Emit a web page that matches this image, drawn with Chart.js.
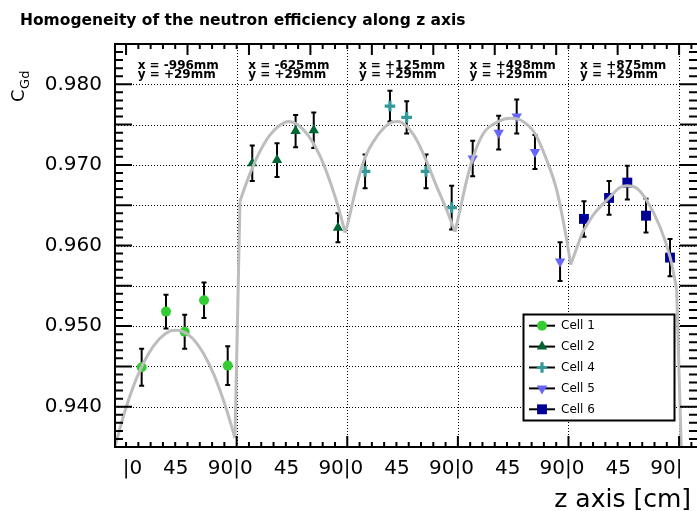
<!DOCTYPE html>
<html>
<head>
<meta charset="utf-8">
<script src="https://cdn.jsdelivr.net/npm/chart.js@4.4.1/dist/chart.umd.min.js"></script>
<style>
  html, body { margin: 0; padding: 0; background: #fff; }
  canvas { display: block; }
</style>
</head>
<body>
<canvas id="chart" width="697" height="511"></canvas>
<script>
// z runs along five cells laid end to end, each cell 100 units long
const cellLength = 100;
const cellNames = ["Cell 1", "Cell 2", "Cell 4", "Cell 5", "Cell 6"];
const cellX = ["x = -996mm", "x = -625mm", "x = +125mm", "x = +498mm", "x = +875mm"];
const cellY = ["y = +29mm", "y = +29mm", "y = +29mm", "y = +29mm", "y = +29mm"];

const z1 = [14.1, 36.1, 53.0, 70.5, 91.9];
const eff1 = [0.9449, 0.9518, 0.9493, 0.9532, 0.9451];
const err1 = [0.0023, 0.0021, 0.0021, 0.0022, 0.0024];

const z2 = [114.1, 136.5, 153.3, 169.7, 191.6];
const eff2 = [0.9702, 0.9706, 0.9742, 0.9743, 0.9622];
const err2 = [0.0022, 0.0021, 0.0020, 0.0022, 0.0018];

const z4 = [216.1, 238.6, 253.7, 271.2, 294.4];
const eff4 = [0.9692, 0.9773, 0.9759, 0.9692, 0.9647];
const err4 = [0.0021, 0.0019, 0.0020, 0.0021, 0.0027];

const z5 = [313.4, 336.9, 353.2, 369.7, 392.4];
const eff5 = [0.9708, 0.9740, 0.9760, 0.9716, 0.9580];
const err5 = [0.0022, 0.0021, 0.0021, 0.0021, 0.0024];

const z6 = [414.0, 436.7, 453.2, 470.1, 491.8];
const eff6 = [0.9633, 0.9659, 0.9678, 0.9637, 0.9585];
const err6 = [0.0022, 0.0021, 0.0021, 0.0021, 0.0023];

// fitted curve, one arch per cell
const fitZ1 = [-10, 0, 10, 20, 30, 40, 45, 50, 60, 70, 80, 90, 98.5];
const fitEff1 = [0.9351, 0.9399, 0.9437, 0.9465, 0.9484, 0.9494, 0.9495, 0.9494, 0.9485, 0.9466, 0.9438, 0.9400, 0.9361];
const fitZ2 = [103, 110, 120, 130, 140, 147, 155, 165, 175, 185, 192, 198];
const fitEff2 = [0.9655, 0.9682, 0.9714, 0.9737, 0.9750, 0.9754, 0.9750, 0.9736, 0.9712, 0.9677, 0.9647, 0.9616];
const fitZ4 = [201, 208.6, 216, 226.6, 238.6, 246, 253.7, 262.8, 271.2, 280.9, 289.9, 297.4];
const fitEff4 = [0.9630, 0.9675, 0.9709, 0.9735, 0.9752, 0.9754, 0.9748, 0.9731, 0.9706, 0.9673, 0.9644, 0.9617];
const fitZ5 = [301.3, 308, 313.4, 323, 336.9, 347.1, 356.2, 369.7, 380.3, 389.3, 398.4, 402];
const fitEff5 = [0.9640, 0.9681, 0.9708, 0.9739, 0.9754, 0.9758, 0.9756, 0.9739, 0.9706, 0.9669, 0.9607, 0.9576];
const fitZ6 = [412.2, 422.5, 436.7, 446.6, 452.7, 461.7, 470.7, 482.8, 491.8, 496.3, 497.8];
const fitEff6 = [0.9615, 0.9638, 0.9659, 0.9672, 0.9674, 0.9671, 0.9656, 0.9623, 0.9586, 0.9557, 0.9545];
// the curve drops out of the frame after the last cell
const fitTailZ = 503;
const fitTailEff = 0.9300;

const yTickStep = 0.005;
const xTickLabels = ["|0", "45", "90|0", "45", "90|0", "45", "90|0", "45", "90|0", "45", "90|"];

// label centres: the bar in each label sits on a cell edge
const xTickValues = [5.8];
for (let k = 0; k < 5; k++) {
  xTickValues.push(k * cellLength + 45);
  xTickValues.push(k < 4 ? (k + 1) * cellLength - 5.8 : (k + 1) * cellLength - 11.5);
}

function points(zs, effs) {
  return zs.map((z, i) => ({ x: z, y: effs[i] }));
}

const cells = [
  { z: z1, eff: eff1, err: err1, color: "#33cc33", style: "circle", radius: 5, rotation: 0 },
  { z: z2, eff: eff2, err: err2, color: "#006633", style: "triangle", radius: 6, rotation: 0 },
  { z: z4, eff: eff4, err: err4, color: "#339999", style: "cross", radius: 5.3, rotation: 0 },
  { z: z5, eff: eff5, err: err5, color: "#6666ff", style: "triangle", radius: 6, rotation: 180 },
  { z: z6, eff: eff6, err: err6, color: "#000099", style: "rect", radius: 7, rotation: 0 }
];

const cellDatasets = cells.map((c, i) => ({
  label: cellNames[i],
  data: points(c.z, c.eff),
  errors: c.err,
  showLine: false,
  pointStyle: c.style,
  pointRadius: c.radius,
  pointRotation: c.rotation,
  pointBackgroundColor: c.color,
  pointBorderColor: c.color,
  pointBorderWidth: c.style === "cross" ? 3.2 : 0,
  order: 2
}));

const arches = [
  points(fitZ1, fitEff1), points(fitZ2, fitEff2), points(fitZ4, fitEff4),
  points(fitZ5, fitEff5), points(fitZ6, fitEff6)
];

const fitStyle = {
  showLine: true,
  borderColor: "#bdbdbd",
  borderWidth: 3,
  pointRadius: 0,
  clip: 0,
  order: 1
};

const archDatasets = arches.map(pts => ({
  ...fitStyle,
  label: "fit",
  data: pts,
  cubicInterpolationMode: "monotone"
}));

// straight pieces joining the end of one arch to the start of the next
const joinPoints = [];
for (let k = 0; k < arches.length - 1; k++) {
  joinPoints.push(arches[k][arches[k].length - 1], arches[k + 1][0], { x: arches[k + 1][0].x + 0.01, y: null });
}
const lastArch = arches[arches.length - 1];
joinPoints.push(lastArch[lastArch.length - 1], { x: fitTailZ, y: fitTailEff });

const joinDataset = { ...fitStyle, label: "fit", data: joinPoints, spanGaps: false };

const framePlugin = {
  id: "rootFrame",
  beforeDraw(chart) {
    const ctx = chart.ctx;
    ctx.save();
    ctx.fillStyle = "#fff";
    ctx.fillRect(0, 0, chart.width, chart.height);
    ctx.restore();
  },
  beforeDatasetsDraw(chart) {
    const { ctx, chartArea: a, scales: { x, y } } = chart;
    ctx.save();
    // dotted grid
    ctx.strokeStyle = "#000";
    ctx.lineWidth = 1;
    ctx.setLineDash([1, 2]);
    for (let k = 940; k <= 980; k += 5) {
      const py = Math.round(y.getPixelForValue(k / 1000)) + 0.5;
      ctx.beginPath();
      ctx.moveTo(a.left, py);
      ctx.lineTo(a.right, py);
      ctx.stroke();
    }
    for (let k = 1; k <= 5; k++) {
      const px = Math.round(x.getPixelForValue(k * cellLength)) + 0.5;
      ctx.beginPath();
      ctx.moveTo(px, a.top);
      ctx.lineTo(px, a.bottom);
      ctx.stroke();
    }
    ctx.setLineDash([]);
    // error bars
    ctx.lineWidth = 2;
    chart.data.datasets.forEach(ds => {
      if (!ds.errors) return;
      ds.data.forEach((p, i) => {
        const px = x.getPixelForValue(p.x);
        const top = y.getPixelForValue(p.y + ds.errors[i]);
        const bot = y.getPixelForValue(p.y - ds.errors[i]);
        ctx.beginPath();
        ctx.moveTo(px, top);
        ctx.lineTo(px, bot);
        ctx.moveTo(px - 2.5, top);
        ctx.lineTo(px + 2.5, top);
        ctx.moveTo(px - 2.5, bot);
        ctx.lineTo(px + 2.5, bot);
        ctx.stroke();
      });
    });
    ctx.restore();
  },
  afterDatasetsDraw(chart) {
    const { ctx, chartArea: a, scales: { x, y } } = chart;
    ctx.save();
    ctx.strokeStyle = "#000";
    ctx.lineWidth = 2;

    // tick marks on all four sides
    ctx.beginPath();
    for (let k = 935; k <= 985; k++) {
      const py = y.getPixelForValue(k / 1000);
      const len = k % 5 === 0 ? 17 : 8;
      ctx.moveTo(a.left, py);
      ctx.lineTo(a.left + len, py);
      ctx.moveTo(a.right, py);
      ctx.lineTo(a.right - len, py);
    }
    for (let j = 0; j <= 46; j++) {
      const u = j * cellLength / 9;
      if (u > x.max) break;
      const px = x.getPixelForValue(u);
      const lenB = (j % 9 === 0 && j > 0) ? 11 : 5;
      const lenT = j % 5 === 0 ? 11 : 5;
      ctx.moveTo(px, a.bottom);
      ctx.lineTo(px, a.bottom - lenB);
      ctx.moveTo(px, a.top);
      ctx.lineTo(px, a.top + lenT);
    }
    ctx.stroke();
    ctx.strokeRect(a.left, a.top, a.right - a.left + 2, a.bottom - a.top);

    // cell position notes
    ctx.fillStyle = "#000";
    ctx.font = "bold 12px 'DejaVu Sans'";
    ctx.textAlign = "left";
    ctx.textBaseline = "alphabetic";
    for (let k = 0; k < 5; k++) {
      const px = x.getPixelForValue(k * cellLength + 10.5);
      ctx.fillText(cellX[k], px, 68.5);
      ctx.fillText(cellY[k], px, 77.5);
    }

    // legend
    const lx = 523.5, ly = 314.5, lw = 151, lh = 106;
    ctx.fillStyle = "#fff";
    ctx.fillRect(lx, ly, lw, lh);
    ctx.lineWidth = 2;
    ctx.strokeRect(lx, ly, lw, lh);
    chart.data.datasets.forEach(ds => {
      if (!ds.errors) return;
      const row = cellNames.indexOf(ds.label);
      const ry = 325.7 + row * 20.9;
      ctx.strokeStyle = "#000";
      ctx.lineWidth = 2;
      ctx.beginPath();
      ctx.moveTo(529, ry);
      ctx.lineTo(555, ry);
      ctx.stroke();
      ctx.fillStyle = ds.pointBackgroundColor;
      ctx.strokeStyle = ds.pointBorderColor;
      ctx.lineWidth = ds.pointBorderWidth;
      Chart.helpers.drawPoint(ctx, {
        pointStyle: ds.pointStyle,
        radius: ds.pointRadius,
        rotation: ds.pointRotation,
        borderWidth: ds.pointBorderWidth
      }, 542, ry);
      ctx.fillStyle = "#000";
      ctx.font = "12px 'DejaVu Sans'";
      ctx.textBaseline = "middle";
      ctx.fillText(ds.label, 561, ry + 0.5);
    });

    // titles
    ctx.fillStyle = "#000";
    ctx.textBaseline = "alphabetic";
    ctx.textAlign = "left";
    ctx.font = "bold 15.5px 'DejaVu Sans'";
    ctx.fillText("Homogeneity of the neutron efficiency along z axis", 20, 25);

    ctx.textAlign = "right";
    ctx.font = "25px 'DejaVu Sans'";
    ctx.fillText("z axis [cm]", 691, 507);

    ctx.translate(24, 102);
    ctx.rotate(-Math.PI / 2);
    ctx.textAlign = "left";
    ctx.font = "18px 'DejaVu Sans'";
    ctx.fillText("C", 0, 0);
    const cw = ctx.measureText("C").width;
    ctx.font = "13px 'DejaVu Sans'";
    ctx.fillText("Gd", cw + 0.5, 4.5);
    ctx.restore();
  }
};

new Chart(document.getElementById("chart").getContext("2d"), {
  type: "scatter",
  data: { datasets: [joinDataset, ...archDatasets, ...cellDatasets] },
  options: {
    responsive: false,
    animation: false,
    devicePixelRatio: 1,
    layout: { autoPadding: false, padding: { top: 44, left: 0, right: 0, bottom: 0 } },
    plugins: {
      legend: { display: false },
      tooltip: { enabled: false },
      title: { display: false }
    },
    scales: {
      x: {
        type: "linear",
        min: -10,
        max: 516.2,
        grid: { display: false, drawTicks: false },
        border: { display: false },
        afterBuildTicks: axis => { axis.ticks = xTickValues.map(v => ({ value: v })); },
        afterFit: axis => {
          axis.height = 64;
          axis.paddingLeft = 0;
          axis.paddingRight = 0;
        },
        ticks: {
          autoSkip: false,
          maxRotation: 0,
          minRotation: 0,
          padding: 10,
          color: "#000",
          font: { family: "DejaVu Sans", size: 20 },
          callback: (v, i) => xTickLabels[i]
        }
      },
      y: {
        min: 0.935,
        max: 0.985,
        grid: { display: false, drawTicks: false },
        border: { display: false },
        afterFit: axis => {
          axis.width = 115;
          axis.paddingTop = 0;
          axis.paddingBottom = 0;
        },
        ticks: {
          stepSize: yTickStep,
          autoSkip: false,
          padding: 13,
          color: "#000",
          font: { family: "DejaVu Sans", size: 20 },
          callback: v => (Math.round(v * 1000) % 10 === 0 ? v.toFixed(3) : "")
        }
      }
    }
  },
  plugins: [framePlugin]
});
</script>
</body>
</html>
